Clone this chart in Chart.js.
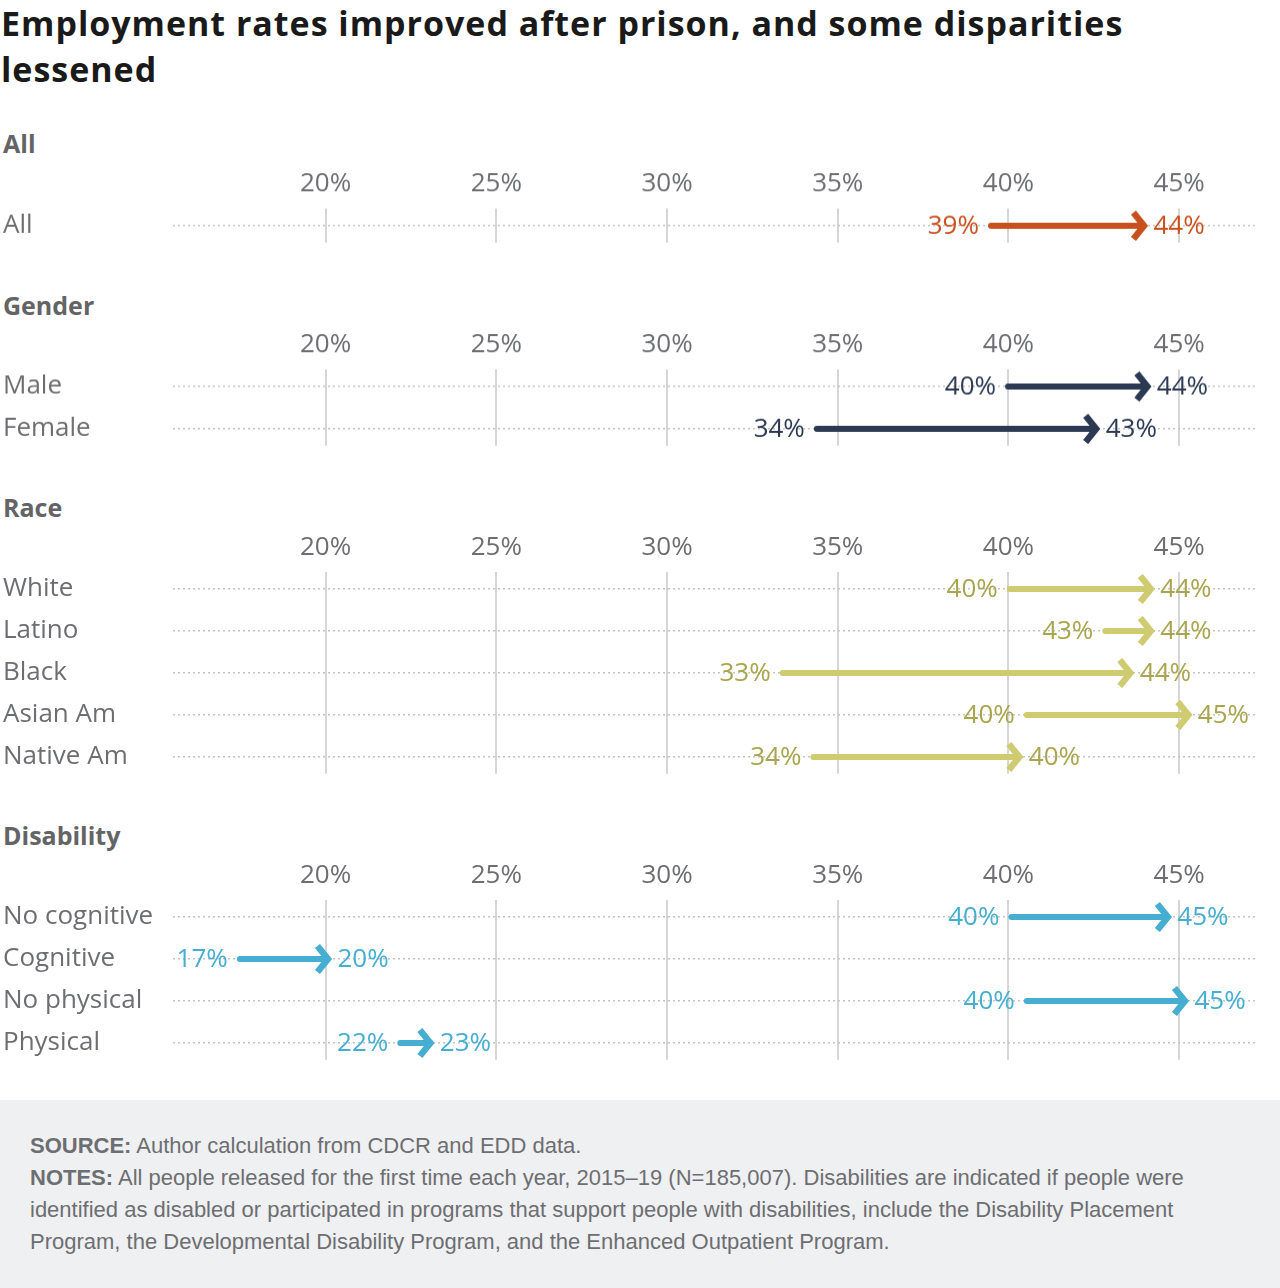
<!DOCTYPE html>
<html>
<head>
<meta charset="utf-8">
<script src="https://cdn.jsdelivr.net/npm/chart.js@4.4.1/dist/chart.umd.min.js"></script>
<style>
  body { margin: 0; background: #fff; font-family: "Open Sans", sans-serif; }
  .title { position: absolute; left: 1px; top: 0; font-size: 34px; line-height: 46px; font-weight: 700; color: #1a1a1a; white-space: nowrap; }
  .head { position: absolute; left: 3px; font-size: 25px; line-height: 30px; font-weight: 700; color: #636466; }
  .panel { position: absolute; left: 0; width: 1280px; }
  .foot { position: absolute; left: 0; top: 1100px; width: 1280px; height: 188px; background: #eff0f1; box-sizing: border-box; padding: 30px 0 0 30px; font-family: "Liberation Sans", Arial, sans-serif; font-size: 22px; line-height: 32px; color: #6d6e71; white-space: nowrap; }
</style>
</head>
<body>
<div class="title"><span id="t1">Employment rates improved after prison, and some disparities</span><br>lessened</div>

<div class="head" style="top:128px">All</div>
<div class="panel" style="top:167.8px;height:77.8px"><canvas id="c1"></canvas></div>

<div class="head" style="top:290px">Gender</div>
<div class="panel" style="top:329px;height:119.8px"><canvas id="c2"></canvas></div>

<div class="head" style="top:492px">Race</div>
<div class="panel" style="top:531.5px;height:245.8px"><canvas id="c3"></canvas></div>

<div class="head" style="top:820px">Disability</div>
<div class="panel" style="top:859.5px;height:203.8px"><canvas id="c4"></canvas></div>

<div class="foot">
  <b>SOURCE:</b> Author calculation from CDCR and EDD data.<br>
  <b>NOTES:</b> All people released for the first time each year, 2015–19 (N=185,007). Disabilities are indicated if people were<br>
  identified as disabled or participated in programs that support people with disabilities, include the Disability Placement<br>
  Program, the Developmental Disability Program, and the Enhanced Outpatient Program.
</div>

<script>
// employment rate before / after prison, percent
const allCats = ['All'];
const allBefore = [39.4];
const allAfter = [44.1];

const genderCats = ['Male', 'Female'];
const genderBefore = [39.9, 34.3];
const genderAfter = [44.2, 42.7];

const raceCats = ['White', 'Latino', 'Black', 'Asian Am', 'Native Am'];
const raceBefore = [39.95, 42.75, 33.3, 40.45, 34.2];
const raceAfter = [44.3, 44.3, 43.7, 45.4, 40.45];

const disCats = ['No cognitive', 'Cognitive', 'No physical', 'Physical'];
const disBefore = [40.0, 17.4, 40.45, 22.1];
const disAfter = [44.8, 20.2, 45.3, 23.2];

const xTicks = [20, 25, 30, 35, 40, 45];

const font = '"Open Sans", sans-serif';
const grey = '#6d6e71';

const arrows = {
  id: 'arrows',
  afterDatasetsDraw(chart, args, opts) {
    const ctx = chart.ctx;
    const m0 = chart.getDatasetMeta(0);
    const m1 = chart.getDatasetMeta(1);
    const d0 = chart.data.datasets[0].data;
    const d1 = chart.data.datasets[1].data;
    ctx.save();
    m0.data.forEach((p, i) => {
      const x0 = p.x, x1 = m1.data[i].x, y = p.y;
      ctx.strokeStyle = opts.line;
      ctx.lineWidth = 6;
      ctx.lineCap = 'round';
      ctx.beginPath();
      ctx.moveTo(x0 + 3, y);
      ctx.lineTo(x1 - 6, y);
      ctx.stroke();
      // open chevron head, tip on the value
      ctx.lineWidth = 6.5;
      ctx.lineCap = 'butt';
      ctx.lineJoin = 'miter';
      ctx.beginPath();
      ctx.moveTo(x1 - 15, y - 13);
      ctx.lineTo(x1 - 4.5, y);
      ctx.lineTo(x1 - 15, y + 13);
      ctx.stroke();

      ctx.fillStyle = opts.text;
      ctx.font = '26px ' + font;
      ctx.textBaseline = 'middle';
      ctx.textAlign = 'right';
      ctx.fillText(Math.round(d0[i].x) + '%', x0 - 9, y + 1);
      ctx.textAlign = 'left';
      ctx.fillText(Math.round(d1[i].x) + '%', x1 + 5, y + 1);
    });
    ctx.restore();
  }
};

function makePanel(id, cats, before, after, lineColor, textColor) {
  new Chart(document.getElementById(id), {
    type: 'scatter',
    data: {
      datasets: [
        { data: before.map((v, i) => ({ x: v, y: i })), pointRadius: 0 },
        { data: after.map((v, i) => ({ x: v, y: i })), pointRadius: 0 }
      ]
    },
    options: {
      responsive: true,
      maintainAspectRatio: false,
      animation: false,
      layout: { padding: { left: 3, right: 24, top: 0, bottom: 4 } },
      plugins: {
        legend: { display: false },
        tooltip: { enabled: false },
        arrows: { line: lineColor, text: textColor }
      },
      scales: {
        x: {
          type: 'linear',
          position: 'top',
          min: 15.53,
          max: 47.25,
          afterBuildTicks: s => { s.ticks = xTicks.map(v => ({ value: v })); },
          afterFit: s => { s.height = 40.2; },
          ticks: {
            callback: v => v + '%',
            font: { family: font, size: 26 },
            color: grey,
            padding: 9,
            maxRotation: 0,
            autoSkip: false
          },
          grid: { color: '#d6d6d6', lineWidth: 2, drawTicks: false },
          border: { display: false }
        },
        y: {
          type: 'linear',
          reverse: true,
          min: -0.4,
          max: cats.length - 0.6,
          afterBuildTicks: s => { s.ticks = cats.map((c, i) => ({ value: i })); },
          afterFit: s => { s.width = 170; s.paddingTop = 0; s.paddingBottom = 0; },
          ticks: {
            callback: v => cats[v],
            crossAlign: 'far',
            font: { family: font, size: 26 },
            color: grey
          },
          grid: { color: '#c4c4c4', lineWidth: 1.5, drawTicks: false },
          border: { display: false, dash: [2, 3] }
        }
      }
    },
    plugins: [arrows]
  });
}

makePanel('c1', allCats, allBefore, allAfter, '#c8501e', '#c8501e');
makePanel('c2', genderCats, genderBefore, genderAfter, '#2b3a52', '#2b3a52');
makePanel('c3', raceCats, raceBefore, raceAfter, '#cfcb70', '#a9a54e');
makePanel('c4', disCats, disBefore, disAfter, '#45aed1', '#45aed1');

// stretch the first title line to the width it has in the original
const t1 = document.getElementById('t1');
const w = t1.getBoundingClientRect().width;
const sp = (1122 - w) / t1.textContent.length;
document.querySelector('.title').style.letterSpacing = sp.toFixed(2) + 'px';
</script>
</body>
</html>
